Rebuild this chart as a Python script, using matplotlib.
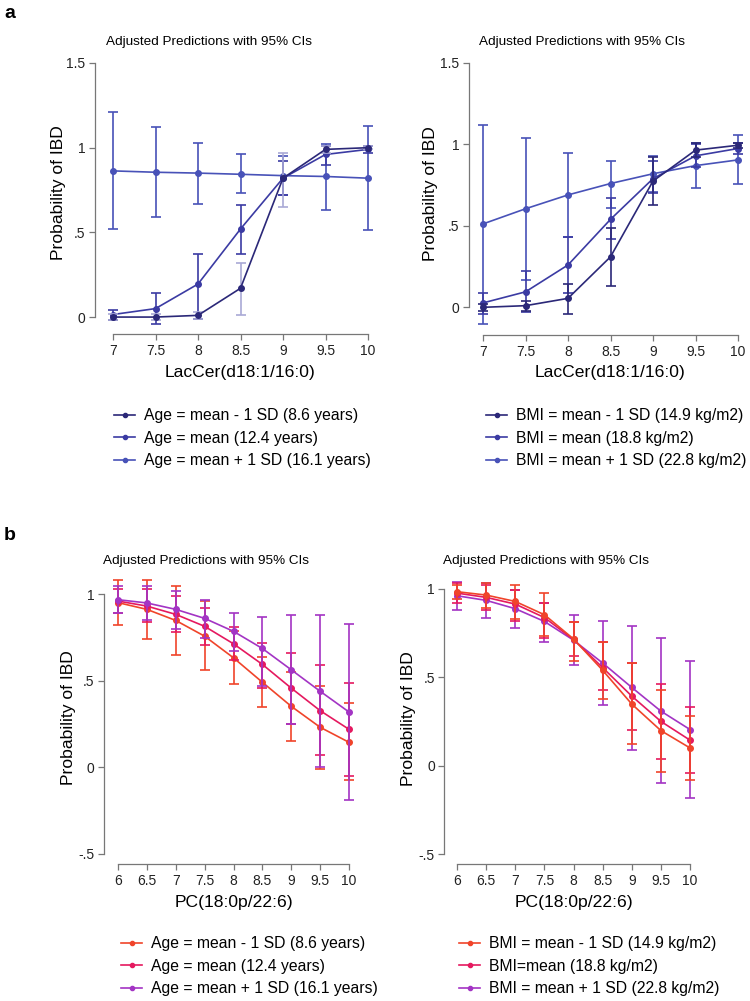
import matplotlib
matplotlib.use("Agg")
import matplotlib.pyplot as plt
from matplotlib.lines import Line2D

plt.rcParams['font.family'] = ['Liberation Sans', 'DejaVu Sans']

# ---- data -------------------------------------------------------------
x_lac = [7, 7.5, 8, 8.5, 9, 9.5, 10]
x_pc = [6, 6.5, 7, 7.5, 8, 8.5, 9, 9.5, 10]

# panel a, left (age)
a1_lo = [0.0, 0.0, 0.01, 0.17, 0.82, 0.99, 1.0]
a1_lo_ci = [(-0.02, 0.02), (-0.02, 0.02), (-0.01, 0.03), (0.01, 0.32), (0.65, 0.97), (0.97, 1.01), (0.99, 1.01)]
a1_mid = [0.015, 0.05, 0.195, 0.52, 0.82, 0.96, 0.99]
a1_mid_ci = [(-0.02, 0.04), (-0.04, 0.14), (-0.01, 0.37), (0.37, 0.66), (0.72, 0.92), (0.90, 1.01), (0.97, 1.01)]
a1_hi = [0.863, 0.855, 0.85, 0.843, 0.835, 0.83, 0.82]
a1_hi_ci = [(0.52, 1.21), (0.59, 1.12), (0.67, 1.03), (0.73, 0.96), (0.72, 0.95), (0.63, 1.02), (0.515, 1.13)]

# panel a, right (BMI)
a2_lo = [0.0, 0.01, 0.055, 0.31, 0.775, 0.965, 0.995]
a2_lo_ci = [(-0.02, 0.02), (-0.02, 0.04), (-0.04, 0.145), (0.13, 0.49), (0.63, 0.92), (0.92, 1.01), (0.98, 1.01)]
a2_mid = [0.027, 0.095, 0.26, 0.54, 0.79, 0.93, 0.975]
a2_mid_ci = [(-0.04, 0.09), (-0.03, 0.225), (0.086, 0.43), (0.42, 0.67), (0.70, 0.90), (0.86, 1.0), (0.94, 1.01)]
a2_hi = [0.512, 0.605, 0.69, 0.76, 0.82, 0.87, 0.905]
a2_hi_ci = [(-0.1, 1.12), (0.17, 1.037), (0.43, 0.95), (0.61, 0.90), (0.71, 0.93), (0.73, 1.01), (0.755, 1.06)]

# panel b, left (age)
b1_lo = [0.952, 0.913, 0.849, 0.758, 0.633, 0.492, 0.353, 0.232, 0.145]
b1_lo_ci = [(0.82, 1.08), (0.74, 1.08), (0.65, 1.05), (0.56, 0.96), (0.48, 0.79), (0.35, 0.64), (0.15, 0.55), (-0.01, 0.47), (-0.07, 0.37)]
b1_mid = [0.961, 0.932, 0.884, 0.815, 0.714, 0.595, 0.458, 0.328, 0.220]
b1_mid_ci = [(0.89, 1.03), (0.84, 1.03), (0.78, 0.99), (0.71, 0.92), (0.62, 0.81), (0.46, 0.72), (0.25, 0.66), (0.07, 0.59), (-0.05, 0.49)]
b1_hi = [0.969, 0.950, 0.913, 0.861, 0.786, 0.687, 0.564, 0.440, 0.320]
b1_hi_ci = [(0.89, 1.05), (0.85, 1.05), (0.80, 1.02), (0.75, 0.97), (0.67, 0.89), (0.47, 0.87), (0.25, 0.88), (0.0, 0.88), (-0.19, 0.83)]

# panel b, right (BMI)
b2_lo = [0.983, 0.964, 0.928, 0.853, 0.716, 0.539, 0.348, 0.198, 0.100]
b2_lo_ci = [(0.94, 1.02), (0.89, 1.03), (0.826, 1.02), (0.73, 0.977), (0.59, 0.81), (0.376, 0.70), (0.12, 0.58), (-0.034, 0.43), (-0.08, 0.28)]
b2_mid = [0.975, 0.951, 0.913, 0.837, 0.713, 0.554, 0.393, 0.250, 0.144]
b2_mid_ci = [(0.92, 1.03), (0.88, 1.02), (0.82, 0.99), (0.72, 0.92), (0.62, 0.81), (0.43, 0.70), (0.20, 0.58), (0.036, 0.46), (-0.04, 0.33)]
b2_hi = [0.960, 0.934, 0.887, 0.815, 0.709, 0.580, 0.442, 0.308, 0.204]
b2_hi_ci = [(0.88, 1.04), (0.835, 1.03), (0.78, 0.99), (0.70, 0.92), (0.57, 0.85), (0.34, 0.82), (0.09, 0.79), (-0.10, 0.72), (-0.185, 0.59)]

age_labels = ["Age = mean - 1 SD (8.6 years)", "Age = mean (12.4 years)", "Age = mean + 1 SD (16.1 years)"]
bmi_labels_a = ["BMI = mean - 1 SD (14.9 kg/m2)", "BMI = mean (18.8 kg/m2)", "BMI = mean + 1 SD (22.8 kg/m2)"]
bmi_labels_b = ["BMI = mean - 1 SD (14.9 kg/m2)", "BMI=mean (18.8 kg/m2)", "BMI = mean + 1 SD (22.8 kg/m2)"]

blues = ['#2b2878', '#3b3ba3', '#4852b8']
blue_ci_lo = '#a9a9d6'
warm = ['#f0442a', '#e5195f', '#a334c4']

W, H = 750, 1001
fig = plt.figure(figsize=(7.5, 10.01), dpi=100)


def fx(px):
    return px / W


def fy(py):
    return 1 - py / H


def make_ax(left, right, top, bottom, xlim, ylim, yspan, xticks, yticks, ylabs, spine_off):
    ax = fig.add_axes([fx(left), fy(bottom), (right - left) / W, (bottom - top) / H])
    ax.set_xlim(*xlim)
    ax.set_ylim(*ylim)
    for s in ['top', 'right']:
        ax.spines[s].set_visible(False)
    ax.spines['left'].set_position(('outward', spine_off))
    ax.spines['left'].set_bounds(*yspan)
    ax.spines['bottom'].set_bounds(*xlim)
    for s in ['left', 'bottom']:
        ax.spines[s].set_color('#777777')
        ax.spines[s].set_linewidth(0.9)
    ax.set_xticks(xticks)
    ax.set_xticklabels([('%g' % t) for t in xticks])
    ax.set_yticks(yticks)
    ax.set_yticklabels(ylabs)
    ax.tick_params(direction='out', length=4, width=0.9, color='#777777',
                   labelsize=10, labelcolor='#222222', pad=3)
    ax.patch.set_visible(False)
    return ax


def draw_series(ax, xs, ys, cis, color, ci_color=None):
    ci_color = ci_color or color
    lower = [y - c[0] for y, c in zip(ys, cis)]
    upper = [c[1] - y for y, c in zip(ys, cis)]
    ax.errorbar(xs, ys, yerr=[lower, upper], fmt='none', ecolor=ci_color,
                elinewidth=1.2, capsize=3.5, capthick=1.2, clip_on=False)
    ax.plot(xs, ys, '-o', color=color, lw=1.2, ms=4, clip_on=False)


def legend(handles_colors, labels, x, y):
    hs = [Line2D([0], [0], color=c, lw=1.2, marker='o', ms=3) for c in handles_colors]
    fig.legend(hs, labels, loc='upper left', bbox_to_anchor=(fx(x), fy(y)),
               bbox_transform=fig.transFigure, frameon=False, fontsize=11.3,
               handlelength=1.35, handletextpad=0.55, labelspacing=0.48,
               borderaxespad=0, borderpad=0)


title = "Adjusted Predictions with 95% CIs"
TFS = 9.7
LFS = 12.6

# ---- panel a left ----
ax = make_ax(113, 368, 63, 334, (7, 10), (-0.1, 1.5), (0, 1.5), x_lac,
             [0, 0.5, 1, 1.5], ['0', '.5', '1', '1.5'], 13)
draw_series(ax, x_lac, a1_hi, a1_hi_ci, blues[2])
draw_series(ax, x_lac, a1_mid, a1_mid_ci, blues[1])
draw_series(ax, x_lac, a1_lo, a1_lo_ci, blues[0], blue_ci_lo)
fig.text(fx(209), fy(42), title, ha='center', va='center', fontsize=TFS)
fig.text(fx(58), fy(193), "Probability of IBD", rotation=90, ha='center', va='center', fontsize=LFS)
fig.text(fx(240), fy(373), "LacCer(d18:1/16:0)", ha='center', va='center', fontsize=LFS)
legend(blues, age_labels, 114, 408)

# ---- panel a right ----
ax = make_ax(483, 738, 63, 335, (7, 10), (-0.17, 1.5), (0, 1.5), x_lac,
             [0, 0.5, 1, 1.5], ['0', '.5', '1', '1.5'], 10)
draw_series(ax, x_lac, a2_hi, a2_hi_ci, blues[2])
draw_series(ax, x_lac, a2_mid, a2_mid_ci, blues[1])
draw_series(ax, x_lac, a2_lo, a2_lo_ci, blues[0])
fig.text(fx(582), fy(42), title, ha='center', va='center', fontsize=TFS)
fig.text(fx(430), fy(194), "Probability of IBD", rotation=90, ha='center', va='center', fontsize=LFS)
fig.text(fx(610), fy(373), "LacCer(d18:1/16:0)", ha='center', va='center', fontsize=LFS)
legend(blues, bmi_labels_a, 486, 408)

# ---- panel b left ----
ax = make_ax(118, 349, 577, 864, (6, 10), (-0.558, 1.1), (-0.5, 1), x_pc,
             [-0.5, 0, 0.5, 1], ['-.5', '0', '.5', '1'], 10)
draw_series(ax, x_pc, b1_lo, b1_lo_ci, warm[0])
draw_series(ax, x_pc, b1_mid, b1_mid_ci, warm[1])
draw_series(ax, x_pc, b1_hi, b1_hi_ci, warm[2])
fig.text(fx(206), fy(561), title, ha='center', va='center', fontsize=TFS)
fig.text(fx(68), fy(718), "Probability of IBD", rotation=90, ha='center', va='center', fontsize=LFS)
fig.text(fx(234), fy(903), "PC(18:0p/22:6)", ha='center', va='center', fontsize=LFS)
legend(warm, age_labels, 121, 936)

# ---- panel b right ----
ax = make_ax(457, 690, 571, 864, (6, 10), (-0.556, 1.1), (-0.5, 1), x_pc,
             [-0.5, 0, 0.5, 1], ['-.5', '0', '.5', '1'], 9)
draw_series(ax, x_pc, b2_hi, b2_hi_ci, warm[2])
draw_series(ax, x_pc, b2_mid, b2_mid_ci, warm[1])
draw_series(ax, x_pc, b2_lo, b2_lo_ci, warm[0])
fig.text(fx(546), fy(561), title, ha='center', va='center', fontsize=TFS)
fig.text(fx(408), fy(719), "Probability of IBD", rotation=90, ha='center', va='center', fontsize=LFS)
fig.text(fx(574), fy(903), "PC(18:0p/22:6)", ha='center', va='center', fontsize=LFS)
legend(warm, bmi_labels_b, 459, 936)

# panel letters
fig.text(fx(4), fy(14), "a", fontsize=14, fontweight='bold', ha='left', va='center')
fig.text(fx(4), fy(536), "b", fontsize=14, fontweight='bold', ha='left', va='center')

fig.savefig("out.png", dpi=100)
